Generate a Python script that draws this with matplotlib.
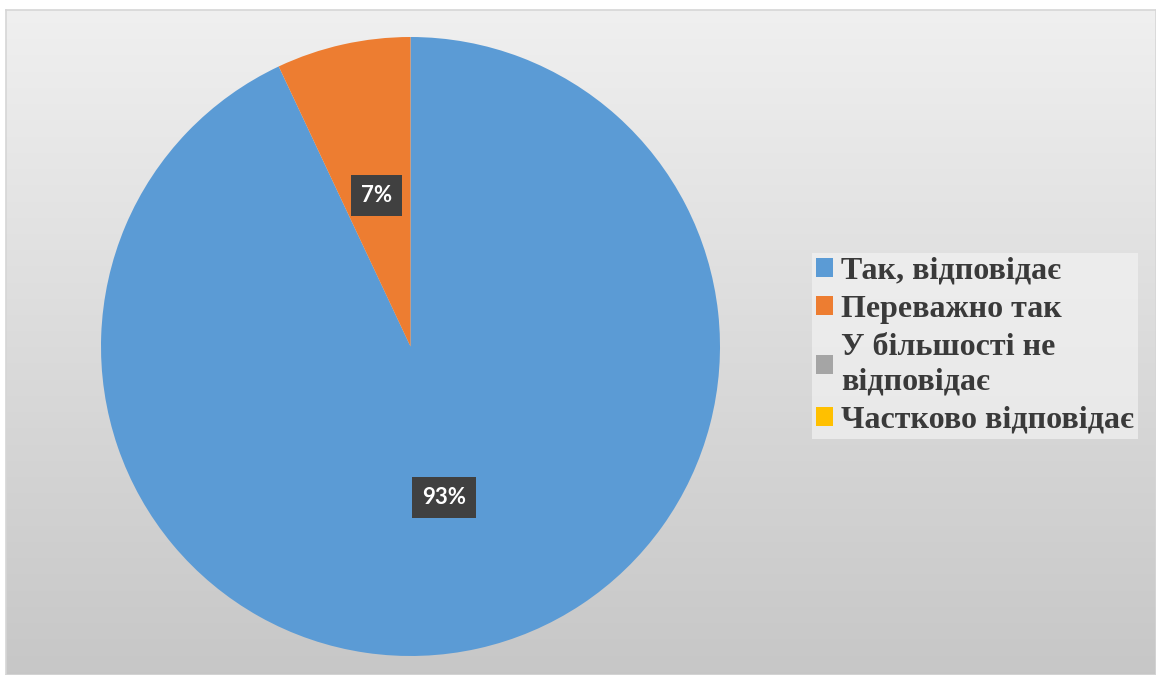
import matplotlib.pyplot as plt
import numpy as np
from matplotlib.patches import Patch

categories = ["Так, відповідає", "Переважно так", "У більшості не\nвідповідає", "Частково відповідає"]
values = [93, 7, 0, 0]
colors = ["#5B9BD5", "#ED7D31", "#A5A5A5", "#FFC000"]

W, H = 1156, 675
fig = plt.figure(figsize=(W / 100, H / 100), dpi=100)
fig.patch.set_facecolor("white")

# chart area background with vertical gradient
bg = fig.add_axes([6 / W, 0, 1150 / W, 665 / H])
grad = np.linspace(0.94, 0.78, 256)[:, None] * np.ones((1, 4))
bg.imshow(np.dstack([grad] * 3), aspect="auto", extent=[0, 1, 0, 1], origin="upper")
bg.set_xticks([])
bg.set_yticks([])
for s in bg.spines.values():
    s.set_color("#d6d6d6")
    s.set_linewidth(1.2)

# pie
ax = fig.add_axes([101 / W, 19 / H, 619 / W, 619 / H])
wedges, texts, autotexts = ax.pie(
    values, colors=colors, startangle=90, counterclock=False,
    autopct=lambda p: f"{p:.0f}%" if p > 0 else "",
    pctdistance=0.5, radius=1, wedgeprops=dict(linewidth=0))
ax.set_xlim(-1, 1)
ax.set_ylim(-1, 1)
for t in autotexts:
    t.set(color="white", fontsize=16, fontweight="bold", family="Lato")
    t.set_bbox(dict(boxstyle="square,pad=0.45", fc="#404040", ec="none"))

# legend
handles = [Patch(facecolor=c, edgecolor="none") for c in colors]
leg = fig.legend(handles, categories, loc="upper left",
                 bbox_to_anchor=(812 / W, 1 - 253 / H),
                 frameon=True,
                 prop=dict(family="Liberation Serif", weight="bold", size=23),
                 labelcolor="#3a3a3a", handlelength=0.55, handleheight=0.55,
                 handletextpad=0.25, labelspacing=0.28, borderpad=0.12,
                 borderaxespad=0, fancybox=False)
for t in leg.get_texts():
    t.set_linespacing(1.28)
leg.get_frame().set(facecolor="#f2f2f2", edgecolor="none", alpha=0.7)

fig.savefig("out.png", dpi=100)
